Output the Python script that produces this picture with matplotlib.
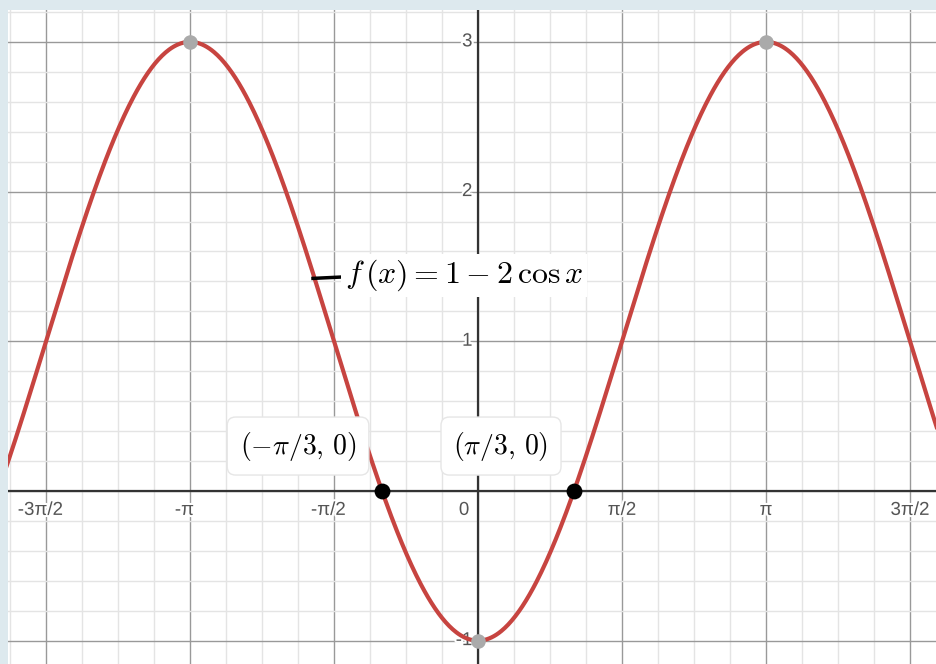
import numpy as np
import matplotlib
matplotlib.use("Agg")
import matplotlib.pyplot as plt
import matplotlib.patheffects as pe

# curve f(x) = 1 - 2 cos x
curve_label = r"$f\,(x) = 1 - 2\,\cos x$"
x_curve = np.linspace(-5.2, 5.1, 800)
y_curve = 1 - 2 * np.cos(x_curve)

# marked points
zero_x = [-np.pi / 3, np.pi / 3]
zero_y = [0, 0]
zero_labels = [r"$(-\pi/3,\,0)$", r"$(\pi/3,\,0)$"]
extreme_x = [-np.pi, np.pi, 0]
extreme_y = [3, 3, -1]

# ticks
x_ticks = [-3 * np.pi / 2, -np.pi, -np.pi / 2, np.pi / 2, np.pi, 3 * np.pi / 2]
x_tick_labels = ["-3\u03c0/2", "-\u03c0", "-\u03c0/2", "\u03c0/2", "\u03c0", "3\u03c0/2"]
y_ticks = [-1, 1, 2, 3]
y_tick_labels = ["-1", "1", "2", "3"]

plt.rcParams['mathtext.fontset'] = 'cm'

fig = plt.figure(figsize=(9.37, 6.64), dpi=100)
fig.patch.set_facecolor("#dde9ee")
ax = fig.add_axes([8 / 937, 0, 929 / 937, 654 / 664])
ax.set_facecolor("white")
for s in ax.spines.values():
    s.set_visible(False)

# grid
ax.set_xticks(np.arange(-4, 5) * np.pi / 2)
ax.set_xticks(np.arange(-16, 17) * np.pi / 8, minor=True)
ax.set_yticks(np.arange(-1, 4))
ax.set_yticks(np.arange(-6, 17) * 0.2, minor=True)
ax.grid(which="major", color="#999999", linewidth=1.0)
ax.grid(which="minor", color="#e4e4e4", linewidth=1.0)
ax.tick_params(which="both", length=0, labelbottom=False, labelleft=False)
ax.set_axisbelow(True)
ax.set_xlim(-5.127, 5.007)
ax.set_ylim(-1.156, 3.213)
ax.axhline(0, color="#333333", linewidth=1.6, zorder=1.5)
ax.axvline(0, color="#333333", linewidth=1.6, zorder=1.5)

halo = [pe.withStroke(linewidth=3, foreground="white")]
for xt, lab in zip(x_ticks, x_tick_labels):
    dx = -4 if lab.startswith("-") else 0
    ax.annotate(lab, (xt, 0), xytext=(dx, -14), textcoords="offset points",
                ha="center", va="center", fontsize=13.5, color="#555555",
                family="Liberation Sans", path_effects=halo, zorder=2)
ax.annotate("0", (0, 0), xytext=(-10, -14), textcoords="offset points",
            ha="center", va="center", fontsize=13.5, color="#555555",
            family="Liberation Sans", path_effects=halo, zorder=2)
for yt, lab in zip(y_ticks, y_tick_labels):
    ax.annotate(lab, (0, yt), xytext=(-4, 0), textcoords="offset points",
                ha="right", va="center", fontsize=13.5, color="#555555",
                family="Liberation Sans", path_effects=halo, zorder=2)

ax.plot(x_curve, y_curve, color="#c74440", linewidth=3, zorder=3, solid_capstyle="round")

ax.scatter(extreme_x, extreme_y, s=110, color="#aaaaaa", zorder=4, linewidths=0)
ax.scatter(zero_x, zero_y, s=130, color="black", zorder=4, linewidths=0)

# curve label
ax.plot([-1.80, -1.46], [1.42, 1.43], color="black", linewidth=2.5, zorder=5)
ax.text(-1.45, 1.44, curve_label, fontsize=23, ha="left", va="center", zorder=5,
        bbox=dict(boxstyle="square,pad=0.12", facecolor="white", edgecolor="none"))

# point labels
label_pos = [(-1.963, 0.30), (0.251, 0.30)]
for (lx, ly), lab in zip(label_pos, zero_labels):
    ax.text(lx, ly, lab, fontsize=20, ha="center", va="center", zorder=5,
            bbox=dict(boxstyle="round,pad=0.45,rounding_size=0.3",
                      facecolor="white", edgecolor="#e6e6e6", linewidth=1))

fig.savefig("out.png", dpi=100, facecolor=fig.get_facecolor())
